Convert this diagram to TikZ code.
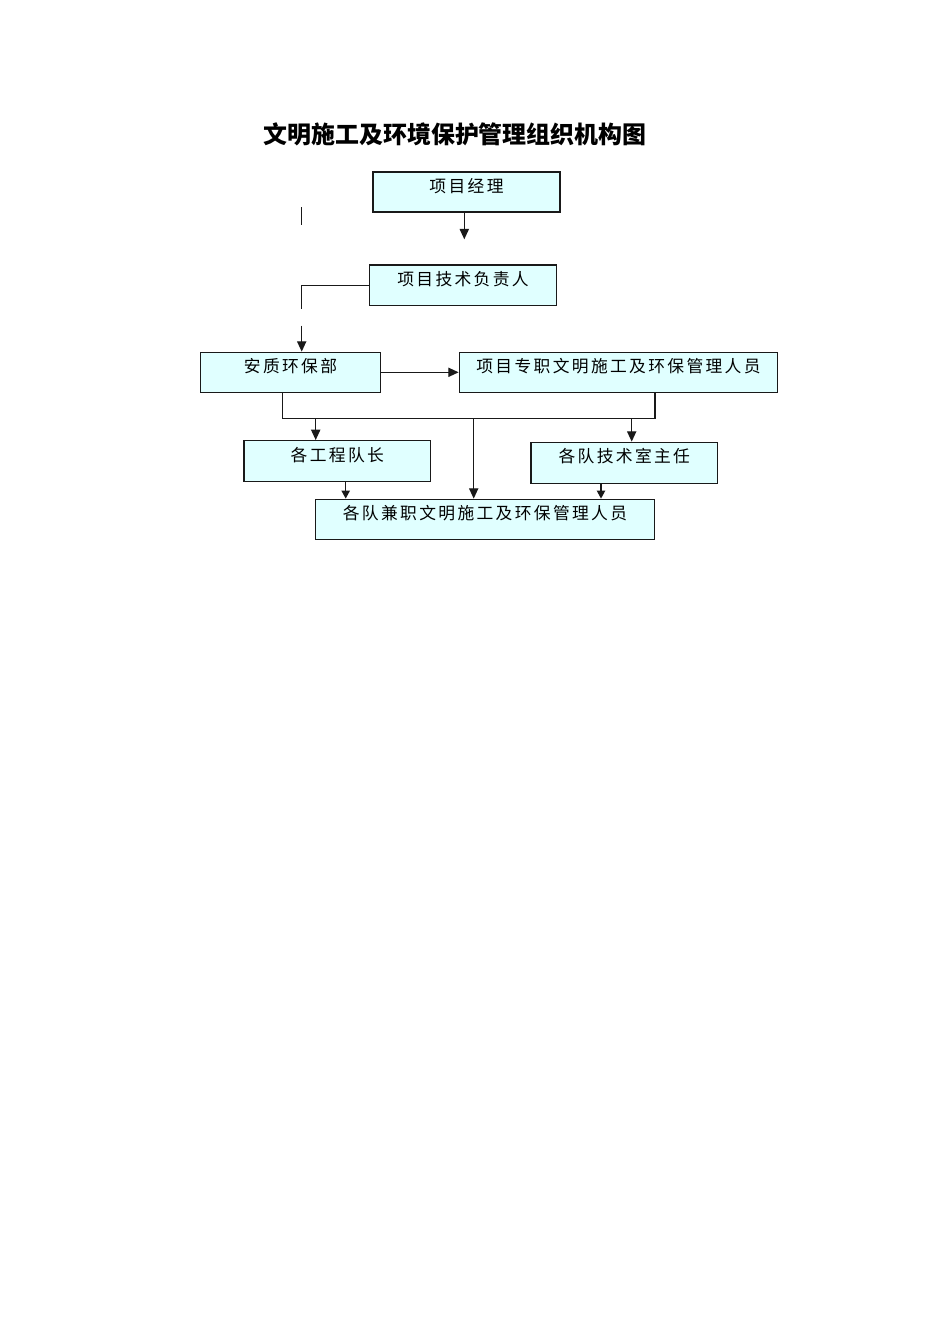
\documentclass[tikz,border=0pt]{standalone}
\usepackage{fontspec}
\newfontfamily\cjk{Noto Sans CJK SC}
\newfontfamily\cjkbox[LetterSpace=14]{Noto Sans CJK SC}
\usetikzlibrary{arrows.meta}
\definecolor{boxfill}{RGB}{224,255,255}

\begin{document}
\begin{tikzpicture}[x=0.6266pt,y=-0.6266pt,
    box/.style={draw=black!90,fill=boxfill,line width=0.85pt,inner sep=0pt,
      text height=9pt,text depth=9pt,font=\cjkbox\fontsize{10.5}{12}\selectfont},
    sz/.style 2 args={minimum width=#1*0.6266pt,minimum height=#2*0.6266pt},
    link/.style={draw=black!90,line width=0.8pt},
    arr/.style={link,-{Triangle[length=6.5pt,width=5.8pt]}},
    shortarr/.style={link,-{Triangle[length=5pt,width=5.2pt]}}]
\useasboundingbox (0,0) rectangle (950,1344);

% Title
\node[font=\cjk\bfseries\fontsize{15}{18}\selectfont] (title) at (455,134) {文明施工及环境保护管理组织机构图};

% Boxes
\node[box,sz={187}{40}] (pm) at (466.5,192) {项目经理};
\node[box,sz={187.4}{40.7}] (tech) at (463,285.3) {项目技术负责人};
\node[box,sz={179.6}{40}] (safety) at (290.5,372.3) {安质环保部};
\node[box,sz={318.4}{40}] (staff) at (618.5,372.3) {项目专职文明施工及环保管理人员};
\node[box,sz={186.7}{41}] (captain) at (337.3,461.2) {各工程队长};
\node[box,sz={186.7}{41}] (office) at (624.3,462.8) {各队技术室主任};
\node[box,sz={338.6}{40}] (part) at (485,519.3) {各队兼职文明施工及环保管理人员};

% Loose ends
\coordinate (pmend) at (464.3,239.3);
\coordinate (tickA) at (301.7,207.3);
\coordinate (tickB) at (301.7,225);
\coordinate (bend) at (301.7,309.3);
\coordinate (gap) at (301.7,325.7);
\coordinate (busL) at (282.3,418.3);
\coordinate (busR) at (655,418.3);

% Top part
\draw[arr] (pm.south -| pmend) -- (pmend);
\draw[link] (tickA) -- (tickB);
\draw[link] (tech.west) -| (bend);
\draw[arr] (gap) -- (gap |- safety.north);
\draw[arr] (safety.east) -- (staff.west);

% Bus below the two middle boxes
\draw[link] (safety.south -| busL) |- (busR) -- (busR |- staff.south);
\foreach \x/\tgt in {315.7/captain, 473.7/part, 631.7/office} {
    \draw[arr] (busL -| \x,0) -- (\tgt.north -| \x,0);
}

% Into the bottom box
\draw[shortarr] (captain.south -| 345.7,0) -- (part.north -| 345.7,0);
\draw[shortarr] (office.south -| 601,0) -- (part.north -| 601,0);

\end{tikzpicture}
\end{document}
